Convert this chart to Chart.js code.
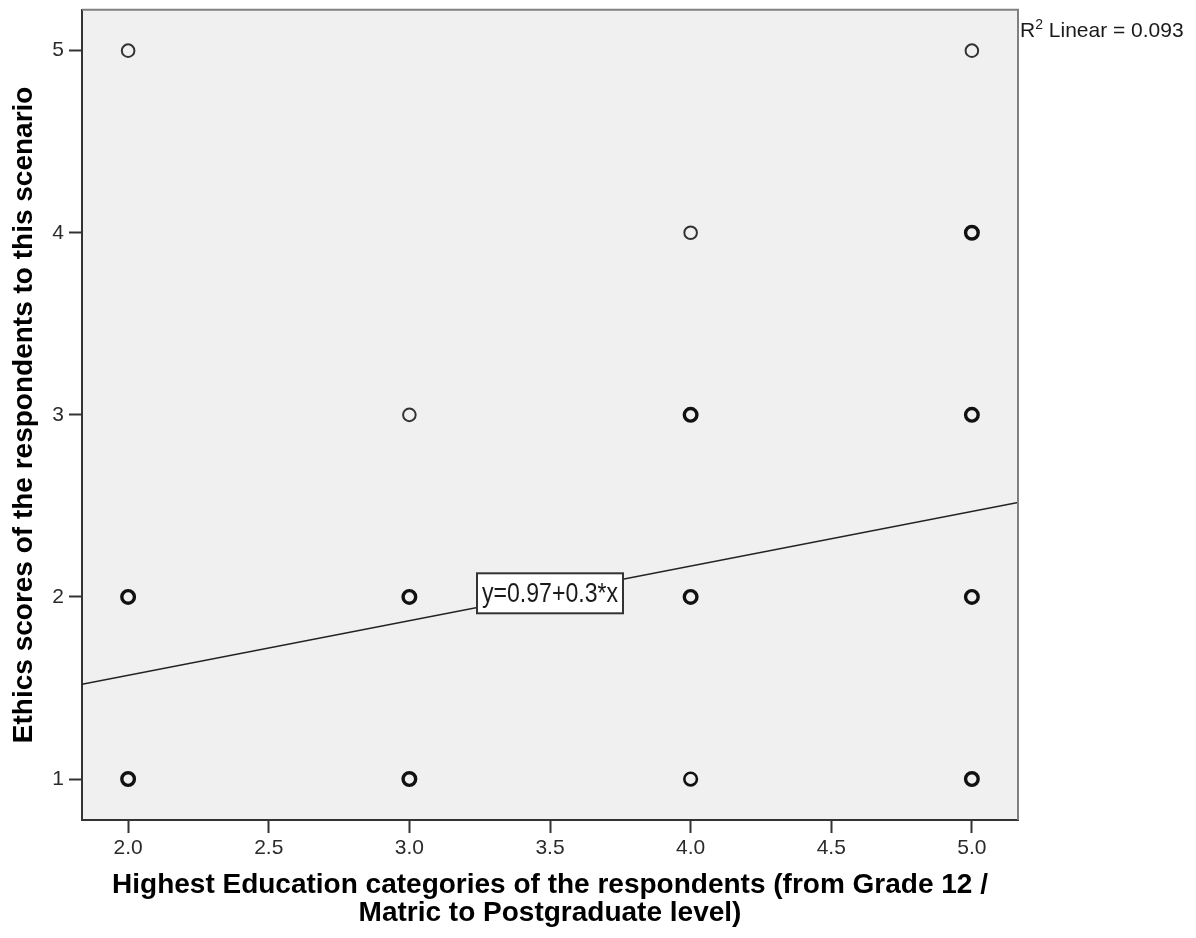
<!DOCTYPE html>
<html>
<head>
<meta charset="utf-8">
<script src="https://cdn.jsdelivr.net/npm/chart.js@4"></script>
<style>
  html, body { margin: 0; padding: 0; background: #ffffff; }
  #wrap { width: 1196px; height: 938px; position: relative; }
</style>
</head>
<body>
<div id="wrap"><canvas id="scatterChart"></canvas></div>
<script>
// Observed combinations (education category, ethics score) and how many respondents sit on each
const education   = [2, 2, 2, 3, 3, 3, 4, 4, 4, 4, 5, 5, 5, 5, 5];
const ethicsScore = [5, 2, 1, 3, 2, 1, 4, 3, 2, 1, 5, 4, 3, 2, 1];
const respondents = [1, 3, 3, 1, 3, 3, 1, 3, 3, 2, 1, 3, 3, 3, 3];

// Linear fit reported by the chart
const fitIntercept = 0.97;
const fitSlope = 0.3;
const rSquared = 0.093;

// Axis ranges and ticks
const xRange = [1.836, 5.164];
const yRange = [0.775, 5.225];
const xTickValues = [2.0, 2.5, 3.0, 3.5, 4.0, 4.5, 5.0];
const yTickValues = [1, 2, 3, 4, 5];

const xTitle = ['Highest Education categories of the respondents (from Grade 12 /', 'Matric to Postgraduate level)'];
const yTitle = 'Ethics scores of the respondents to this scenario';

const FONT = '"Liberation Sans", Arial, Helvetica, sans-serif';

const points = education.map((x, i) => ({ x: x, y: ethicsScore[i], n: respondents[i] }));
const fitLine = xRange.map(x => ({ x: x, y: fitIntercept + fitSlope * x }));

// plot background, the grey top/right frame, the equation box and the R² note
const plotFrame = {
  id: 'plotFrame',
  beforeDraw(chart) {
    const { ctx, chartArea: a } = chart;
    ctx.save();
    ctx.fillStyle = '#f0f0f0';
    ctx.fillRect(a.left, a.top, a.right - a.left, a.bottom - a.top);
    ctx.restore();
  },
  afterDatasetsDraw(chart) {
    const { ctx, scales } = chart;
    const xMid = 3.5;
    const px = scales.x.getPixelForValue(xMid);
    const py = scales.y.getPixelForValue(fitIntercept + fitSlope * xMid);
    const label = 'y=' + fitIntercept + '+' + fitSlope + '*x';
    ctx.save();
    ctx.font = '28px "Liberation Sans Narrow", "Arial Narrow", ' + FONT;
    const w = ctx.measureText(label).width;
    const sx = Math.min(1, 136 / w);
    const bw = 146, bh = 40;
    ctx.fillStyle = '#ffffff';
    ctx.fillRect(px - bw / 2, py - bh / 2, bw, bh);
    ctx.strokeStyle = '#333333';
    ctx.lineWidth = 2;
    ctx.strokeRect(px - bw / 2, py - bh / 2, bw, bh);
    ctx.translate(px, py + 1);
    ctx.scale(sx, 1);
    ctx.fillStyle = '#1a1a1a';
    ctx.textAlign = 'center';
    ctx.textBaseline = 'middle';
    ctx.fillText(label, 0, 0);
    ctx.restore();
  },
  afterDraw(chart) {
    const { ctx, chartArea: a } = chart;
    ctx.save();
    ctx.strokeStyle = '#808080';
    ctx.lineWidth = 2;
    ctx.beginPath();
    ctx.moveTo(a.left, a.top);
    ctx.lineTo(a.right, a.top);
    ctx.lineTo(a.right, a.bottom);
    ctx.stroke();

    // R² Linear note beside the top-right corner
    let x = a.right + 2;
    const base = 37;
    ctx.fillStyle = '#1a1a1a';
    ctx.textBaseline = 'alphabetic';
    ctx.font = '21px ' + FONT;
    ctx.fillText('R', x, base);
    x += ctx.measureText('R').width;
    ctx.font = '14px ' + FONT;
    ctx.fillText('2', x, base - 8);
    x += ctx.measureText('2').width;
    ctx.font = '21px ' + FONT;
    ctx.fillText(' Linear = ' + rSquared, x, base);
    ctx.restore();
  }
};

new Chart(document.getElementById('scatterChart'), {
  type: 'scatter',
  data: {
    datasets: [{
      label: 'Respondents',
      data: points,
      backgroundColor: 'rgba(0,0,0,0)',
      borderColor: ctx => (ctx.raw && ctx.raw.n > 1) ? '#111111' : '#333333',
      borderWidth: ctx => {
        const n = ctx.raw ? ctx.raw.n : 1;
        return n >= 3 ? 3.4 : (n === 2 ? 2.6 : 2.0);
      },
      pointRadius: 6.3,
      pointHoverRadius: 6.3
    }, {
      type: 'line',
      label: 'Linear fit',
      data: fitLine,
      borderColor: '#222222',
      borderWidth: 1.5,
      pointRadius: 0,
      fill: false
    }]
  },
  options: {
    responsive: true,
    maintainAspectRatio: false,
    animation: false,
    events: [],
    layout: { padding: { top: 9, right: 178, left: 0, bottom: 0 } },
    plugins: {
      legend: { display: false },
      tooltip: { enabled: false }
    },
    scales: {
      x: {
        type: 'linear',
        min: xRange[0],
        max: xRange[1],
        afterBuildTicks: scale => { scale.ticks = xTickValues.map(v => ({ value: v })); },
        afterFit: scale => {
          scale.height = 118;
          scale.paddingLeft = 0;
          scale.paddingRight = 0;
        },
        ticks: {
          callback: v => Number(v).toFixed(1),
          font: { family: FONT, size: 21 },
          color: '#2b2b2b',
          padding: 3,
          maxRotation: 0
        },
        grid: { drawOnChartArea: false, tickLength: 13, tickWidth: 2, tickColor: '#333333' },
        border: { color: '#333333', width: 2 },
        title: {
          display: true,
          text: xTitle,
          font: { family: FONT, size: 28, weight: 'bold', lineHeight: 1.0 },
          color: '#000000',
          padding: { top: 0, bottom: 11 }
        }
      },
      y: {
        type: 'linear',
        min: yRange[0],
        max: yRange[1],
        afterBuildTicks: scale => { scale.ticks = yTickValues.map(v => ({ value: v })); },
        afterFit: scale => {
          scale.width = 82;
          scale.paddingTop = 0;
          scale.paddingBottom = 0;
        },
        ticks: {
          font: { family: FONT, size: 21 },
          color: '#2b2b2b',
          padding: 5
        },
        grid: { drawOnChartArea: false, tickLength: 13, tickWidth: 2, tickColor: '#333333' },
        border: { color: '#333333', width: 2 },
        title: {
          display: true,
          text: yTitle,
          font: { family: FONT, size: 28, weight: 'bold' },
          color: '#000000',
          padding: { top: 7, bottom: 0 }
        }
      }
    }
  },
  plugins: [plotFrame]
});
</script>
</body>
</html>
